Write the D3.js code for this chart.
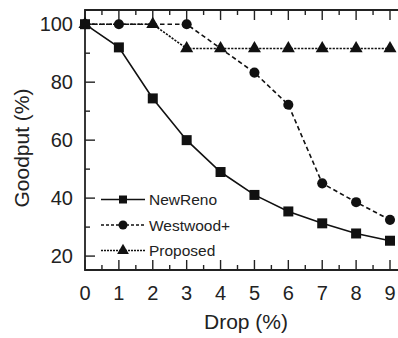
<!DOCTYPE html>
<html>
<head>
<meta charset="utf-8">
<script src="https://cdn.jsdelivr.net/npm/d3@7"></script>
<style>
  html, body { margin: 0; padding: 0; background: #fff; }
  svg { display: block; font-family: "Liberation Sans", Arial, sans-serif; }
</style>
</head>
<body>
<div id="chart"></div>
<script>
// Data
const newRenoDrop = [0, 1, 2, 3, 4, 5, 6, 7, 8, 9]
const newRenoGoodput = [100, 92, 74.4, 60, 49, 41.1, 35.4, 31.3, 27.8, 25.3]

const westwoodDrop = [0, 1, 3, 5, 6, 7, 8, 9]
const westwoodGoodput = [100, 100, 100, 83.3, 72.2, 45.1, 38.6, 32.5]

const proposedDrop = [0, 2, 3, 4, 5, 6, 7, 8, 9]
const proposedGoodput = [100, 100, 91.6, 91.6, 91.6, 91.6, 91.6, 91.6, 91.6]

const xTicks = [0, 1, 2, 3, 4, 5, 6, 7, 8, 9]
const yTicks = [20, 40, 60, 80, 100]
const legendLabels = ["NewReno", "Westwood+", "Proposed"]

const width = 398, height = 338
const plotLeft = 85, plotTop = 10, plotBottom = 270

const svg = d3.select("#chart").append("svg")
  .attr("width", width)
  .attr("height", height)

const x = d3.scaleLinear().domain([0, 9]).range([plotLeft, 390])
const y = d3.scaleLinear().domain([15.2, 104.9]).range([plotBottom, plotTop])
const xRight = x(9.4)

const axisColor = "#222"

// frame: left, bottom, top lines
svg.append("path")
  .attr("d", `M${xRight},${plotTop}H${plotLeft}V${plotBottom}H${xRight}`)
  .attr("fill", "none")
  .attr("stroke", axisColor)
  .attr("stroke-width", 1.8)

// x ticks (inward, bottom and top)
const xMinor = d3.range(0.5, 9.5, 1)
const tickG = svg.append("g").attr("stroke", axisColor).attr("stroke-width", 1.4)
xTicks.forEach(v => {
  tickG.append("line").attr("x1", x(v)).attr("x2", x(v)).attr("y1", plotBottom).attr("y2", plotBottom - 10)
  tickG.append("line").attr("x1", x(v)).attr("x2", x(v)).attr("y1", plotTop).attr("y2", plotTop + 10)
})
xMinor.forEach(v => {
  tickG.append("line").attr("x1", x(v)).attr("x2", x(v)).attr("y1", plotBottom).attr("y2", plotBottom - 5)
  tickG.append("line").attr("x1", x(v)).attr("x2", x(v)).attr("y1", plotTop).attr("y2", plotTop + 5)
})
// y ticks
yTicks.forEach(v => {
  tickG.append("line").attr("x1", plotLeft).attr("x2", plotLeft + 10).attr("y1", y(v)).attr("y2", y(v))
})
;[30, 50, 70, 90].forEach(v => {
  tickG.append("line").attr("x1", plotLeft).attr("x2", plotLeft + 5).attr("y1", y(v)).attr("y2", y(v))
})

// tick labels
svg.append("g").selectAll("text").data(xTicks).join("text")
  .attr("x", d => x(d))
  .attr("y", 300)
  .attr("text-anchor", "middle")
  .attr("font-size", 20)
  .attr("fill", "#222")
  .text(d => d)

svg.append("g").selectAll("text").data(yTicks).join("text")
  .attr("x", 73)
  .attr("y", d => y(d))
  .attr("dy", "0.36em")
  .attr("text-anchor", "end")
  .attr("font-size", 20)
  .attr("fill", "#222")
  .text(d => d)

// axis titles
svg.append("text")
  .attr("x", 246)
  .attr("y", 329)
  .attr("text-anchor", "middle")
  .attr("font-size", 21)
  .attr("fill", "#222")
  .text("Drop (%)")

svg.append("text")
  .attr("transform", "translate(29,148) rotate(-90)")
  .attr("text-anchor", "middle")
  .attr("font-size", 21)
  .attr("fill", "#222")
  .text("Goodput (%)")

// series
const line = d3.line().x(d => x(d[0])).y(d => y(d[1]))
const series = [
  { name: "Westwood+", pts: d3.zip(westwoodDrop, westwoodGoodput), dash: "4.5,3", shape: d3.symbolCircle, size: 80 },
  { name: "Proposed", pts: d3.zip(proposedDrop, proposedGoodput), dash: "2.2,1.3", shape: d3.symbolTriangle, size: 74 },
  { name: "NewReno", pts: d3.zip(newRenoDrop, newRenoGoodput), dash: null, shape: d3.symbolSquare, size: 100 }
]

series.forEach(s => {
  svg.append("path")
    .attr("d", line(s.pts))
    .attr("fill", "none")
    .attr("stroke", "#111")
    .attr("stroke-width", 1.6)
    .attr("stroke-dasharray", s.dash)
})
series.forEach(s => {
  svg.append("g").selectAll("path").data(s.pts).join("path")
    .attr("transform", d => `translate(${x(d[0])},${y(d[1])})`)
    .attr("d", d3.symbol().type(s.shape).size(s.size))
    .attr("fill", "#111")
})

// legend
const legendRows = [
  { label: legendLabels[0], dash: null, shape: d3.symbolSquare, size: 64 },
  { label: legendLabels[1], dash: "3,2", shape: d3.symbolCircle, size: 64 },
  { label: legendLabels[2], dash: "2,1", shape: d3.symbolTriangle, size: 60 }
]
const legend = svg.append("g")
legendRows.forEach((r, i) => {
  const ly = 199.5 + i * 25.5
  legend.append("line")
    .attr("x1", 101).attr("x2", 145).attr("y1", ly).attr("y2", ly)
    .attr("stroke", "#111").attr("stroke-width", 1.4)
    .attr("stroke-dasharray", r.dash)
  legend.append("path")
    .attr("transform", `translate(123,${ly})`)
    .attr("d", d3.symbol().type(r.shape).size(r.size))
    .attr("fill", "#111")
  legend.append("text")
    .attr("x", 149)
    .attr("y", ly + 5.5)
    .attr("font-size", 15.5)
    .attr("fill", "#222")
    .text(r.label)
})
</script>
</body>
</html>
